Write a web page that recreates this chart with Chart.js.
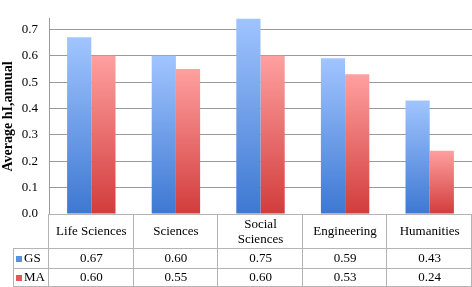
<!DOCTYPE html>
<html>
<head>
<meta charset="utf-8">
<script src="https://cdn.jsdelivr.net/npm/chart.js@4.4.0/dist/chart.umd.min.js"></script>
<style>
  html, body { margin: 0; padding: 0; background: #fff; }
  #wrap { width: 472px; height: 287px; }
</style>
</head>
<body>
<div id="wrap"><canvas id="mycanvas" width="472" height="287"></canvas></div>
<script>
// data
var categories = [['Life Sciences'], ['Sciences'], ['Social', 'Sciences'], ['Engineering'], ['Humanities']];
var seriesNames = ['GS', 'MA'];
var gsValues = [0.67, 0.60, 0.75, 0.59, 0.43];
var maValues = [0.60, 0.55, 0.60, 0.53, 0.24];
var yTicks = [0.0, 0.1, 0.2, 0.3, 0.4, 0.5, 0.6, 0.7];

var serif = "'Liberation Serif', 'DejaVu Serif', serif";
var lineColor = '#9a9a9a';
var tableLine = '#b4b4b4';

function gradient(topColor, bottomColor) {
    return function (context) {
        var chart = context.chart;
        if (!chart.chartArea) return bottomColor;
        var y = chart.scales.y;
        var top = y.getPixelForValue(context.raw);
        var bottom = y.getPixelForValue(0);
        if (!isFinite(top) || !isFinite(bottom) || top === bottom) return bottomColor;
        var g = chart.ctx.createLinearGradient(0, top, 0, bottom);
        g.addColorStop(0, topColor);
        g.addColorStop(1, bottomColor);
        return g;
    };
}

var blueTop = '#a1c5ff', blueBottom = '#3d78d2';
var redTop = '#ffa0a0', redBottom = '#d23c3c';

var dataTable = {
    id: 'dataTable',
    afterDraw: function (chart) {
        var ctx = chart.ctx;
        var area = chart.chartArea;
        var x = chart.scales.x;
        var H = chart.height;
        var catRowBottom = area.bottom + 34;
        var row1Bottom = catRowBottom + 19.5;
        var tableLeft = 13.5;
        var rowsValues = [gsValues, maValues];
        var n = categories.length;
        var colW = (area.right - area.left) / n;

        ctx.save();
        ctx.strokeStyle = tableLine;
        ctx.lineWidth = 1;
        ctx.beginPath();
        // horizontal lines
        ctx.moveTo(area.left, Math.round(area.bottom) + 0.5);
        ctx.lineTo(area.right, Math.round(area.bottom) + 0.5);
        ctx.moveTo(tableLeft, Math.round(catRowBottom) + 0.5);
        ctx.lineTo(area.right, Math.round(catRowBottom) + 0.5);
        ctx.moveTo(tableLeft, Math.round(row1Bottom) + 0.5);
        ctx.lineTo(area.right, Math.round(row1Bottom) + 0.5);
        ctx.moveTo(tableLeft, H - 0.5);
        ctx.lineTo(area.right, H - 0.5);
        // vertical lines
        ctx.moveTo(tableLeft, Math.round(catRowBottom));
        ctx.lineTo(tableLeft, H);
        for (var i = 0; i <= n; i++) {
            var vx = Math.round(area.left + i * colW) - 0.5;
            if (i === n) vx = area.right - 0.5;
            ctx.moveTo(vx, area.bottom);
            ctx.lineTo(vx, H);
        }
        ctx.stroke();

        ctx.fillStyle = '#000';
        ctx.textAlign = 'center';
        ctx.textBaseline = 'middle';
        ctx.font = '13px ' + serif;
        for (var c = 0; c < n; c++) {
            var cx = x.getPixelForTick(c);
            var lines = categories[c];
            var mid = (area.bottom + catRowBottom) / 2 + 1;
            for (var l = 0; l < lines.length; l++) {
                var ly = mid + (l - (lines.length - 1) / 2) * 15;
                ctx.fillText(lines[l], cx, ly);
            }
            for (var r = 0; r < rowsValues.length; r++) {
                var ry = catRowBottom + 19.5 * r + 10.5;
                ctx.fillText(rowsValues[r][c].toFixed(2), cx, ry);
            }
        }
        // legend keys
        ctx.textAlign = 'left';
        for (var s = 0; s < seriesNames.length; s++) {
            var sy = catRowBottom + 19.5 * s + 10.5;
            ctx.fillStyle = s === 0 ? '#5b8ee0' : '#e05a5a';
            ctx.fillRect(16, Math.round(sy) - 3, 6, 6);
            ctx.fillStyle = '#000';
            ctx.fillText(seriesNames[s], 24, sy);
        }
        ctx.restore();
    }
};

var chartdata = {
    labels: categories,
    datasets: [
        {
            label: seriesNames[0],
            data: gsValues,
            backgroundColor: gradient(blueTop, blueBottom),
            borderWidth: 0
        },
        {
            label: seriesNames[1],
            data: maValues,
            backgroundColor: gradient(redTop, redBottom),
            borderWidth: 0
        }
    ]
};

var barGraph = new Chart(document.getElementById('mycanvas'), {
    type: 'bar',
    data: chartdata,
    plugins: [dataTable],
    options: {
        responsive: false,
        animation: false,
        layout: { padding: { top: 5, right: 0, left: 0, bottom: 0 } },
        categoryPercentage: 0.572,
        barPercentage: 1.0,
        plugins: {
            legend: { display: false },
            tooltip: { enabled: false }
        },
        scales: {
            x: {
                ticks: { display: false },
                grid: { display: false },
                border: { display: false },
                afterFit: function (scale) { scale.height = 73; }
            },
            y: {
                min: 0,
                max: 0.74,
                afterBuildTicks: function (scale) {
                    scale.ticks = yTicks.map(function (v) { return { value: v }; });
                },
                ticks: {
                    color: '#000',
                    padding: 11,
                    font: { family: serif, size: 13 },
                    callback: function (v) { return Number(v).toFixed(1); }
                },
                grid: { color: lineColor, drawTicks: false },
                border: { display: true, color: lineColor },
                title: {
                    display: true,
                    text: 'Average hI,annual',
                    color: '#000',
                    font: { family: serif, size: 14, weight: 'bold' },
                    padding: 0
                },
                afterFit: function (scale) { scale.width = 49; }
            }
        }
    }
});
</script>
</body>
</html>
